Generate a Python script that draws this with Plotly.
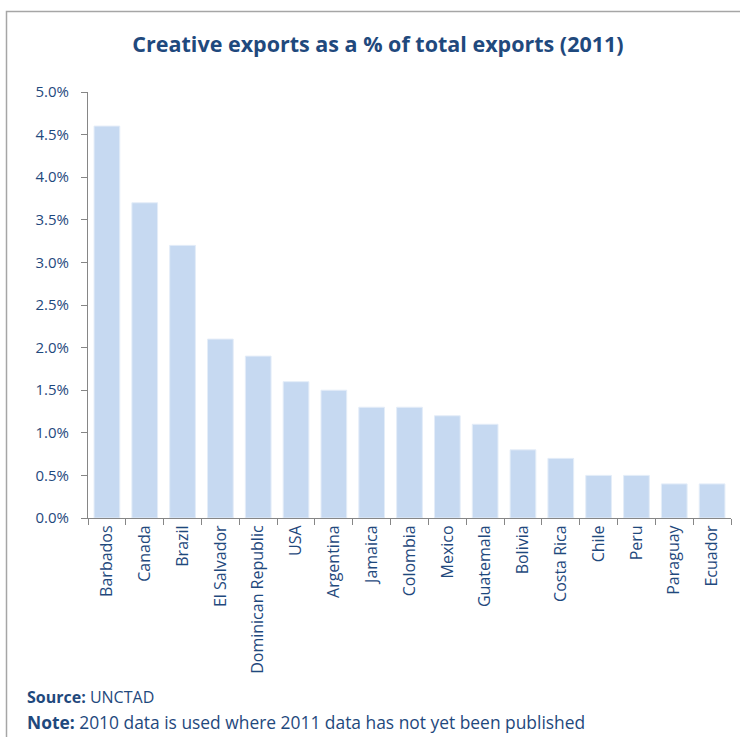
import plotly.graph_objects as go

countries = ["Barbados", "Canada", "Brazil", "El Salvador", "Dominican Republic", "USA",
             "Argentina", "Jamaica", "Colombia", "Mexico", "Guatemala", "Bolivia",
             "Costa Rica", "Chile", "Peru", "Paraguay", "Ecuador"]
share_pct = [4.6, 3.7, 3.2, 2.1, 1.9, 1.6, 1.5, 1.3, 1.3, 1.2, 1.1, 0.8, 0.7, 0.5, 0.5, 0.4, 0.4]
y_ticks = [0, 0.5, 1.0, 1.5, 2.0, 2.5, 3.0, 3.5, 4.0, 4.5, 5.0]
y_tick_labels = [f"{v:.1f}%" for v in y_ticks]

W, H = 740, 737
L, R, T, B = 88, 9, 92, 219
PW, PH = W - L - R, H - T - B

def px_x(px):
    return (px - L) / PW

def px_y(py):
    return (H - B - py) / PH

TEXT = "#1F497D"
FONT = "Open Sans"

fig = go.Figure(go.Bar(
    x=countries, y=share_pct,
    marker=dict(color="#C6D9F1", line=dict(color="#E4EDF8", width=1)),
    hoverinfo="x+y",
))

fig.update_layout(
    width=W, height=H,
    margin=dict(l=L, r=R, t=T, b=B),
    paper_bgcolor="white", plot_bgcolor="white",
    bargap=0.32,
    showlegend=False,
    font=dict(family=FONT, color=TEXT, size=14),
    title=dict(text="<b>Creative exports as a % of total exports (2011)</b>",
               x=378 / W, xanchor="center",
               y=1 - 44 / H, yanchor="middle",
               font=dict(family=FONT, size=21.5, color=TEXT)),
    xaxis=dict(showline=True, linecolor="#868686", linewidth=1,
               ticks="outside", ticklen=6, tickcolor="#868686",
               tickson="boundaries", tickangle=-90,
               tickfont=dict(family=FONT, size=16, color=TEXT),
               showgrid=False, fixedrange=True),
    yaxis=dict(range=[0, 5.0], tickvals=y_ticks, ticktext=y_tick_labels,
               showline=True, linecolor="#868686", linewidth=1,
               ticks="outside", ticklen=6, tickcolor="#868686",
               ticklabelstandoff=9,
               tickfont=dict(family=FONT, size=15, color=TEXT),
               showgrid=False, zeroline=False, fixedrange=True),
    shapes=[dict(type="rect", xref="paper", yref="paper",
                 x0=px_x(6.5), x1=px_x(760), y0=px_y(11.5), y1=px_y(760),
                 line=dict(color="#A6A6A6", width=1.5), fillcolor="rgba(0,0,0,0)",
                 layer="below")],
    annotations=[
        dict(text="<b>Source:</b> UNCTAD", xref="paper", yref="paper",
             x=px_x(25), y=px_y(697), xanchor="left", yanchor="middle",
             showarrow=False, font=dict(family=FONT, size=16, color=TEXT)),
        dict(text="<b>Note:</b> 2010 data is used where 2011 data has not yet been published",
             xref="paper", yref="paper",
             x=px_x(25), y=px_y(722), xanchor="left", yanchor="middle",
             showarrow=False, font=dict(family=FONT, size=17.4, color=TEXT)),
    ],
)

fig.write_html("out.html")
